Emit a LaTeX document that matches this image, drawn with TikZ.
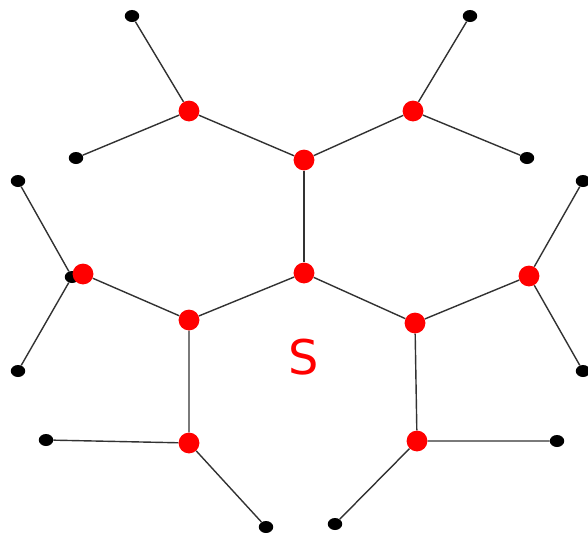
\documentclass[tikz,border=0pt]{standalone}
\usepackage{fontspec}
\newfontfamily\dvs{DejaVu Sans}
\usepackage{tikz}
\usetikzlibrary{positioning,shapes.geometric,backgrounds}
\definecolor{piros}{RGB}{255,0,0}
\definecolor{szurke}{RGB}{50,50,50}
\tikzset{
  pt/.style={circle,fill=piros,inner sep=0pt,minimum size=5.2mm},
  lf/.style={ellipse,fill=black,inner sep=0pt,minimum width=3.6mm,minimum height=3mm},
  el/.style={draw=szurke,line width=1pt},
}

\begin{document}
\begin{tikzpicture}[x=0.025cm,y=-0.025cm]
  \useasboundingbox (0,0) rectangle (588,533);
  % leaves
  \node[lf] (a1) at (132,16) {}; \node[lf] (a2) at (76,158) {};
  \node[lf] (b1) at (470,16) {}; \node[lf] (b2) at (527,158) {};
  \node[lf] (e1) at (18,181) {}; \node[lf] (e2) at (18,371) {}; \node[lf] (e0) at (72,277) {};
  \node[lf] (g1) at (583,181) {}; \node[lf] (g2) at (583,371) {};
  \node[lf] (i1) at (46,440) {}; \node[lf] (i2) at (266,527) {};
  \node[lf] (j1) at (557,441) {}; \node[lf] (j2) at (335,524) {};
  % inner vertices
  \node[pt] (a) at (189,111) {}; \node[pt] (b) at (413,111) {};
  \node[pt] (c) at (304,160) {}; \node[pt] (d) at (304,273) {};
  \node[pt] (e) at (83,274) {};
  \node[pt] (f) at (189,320) {}; \node[pt] (h) at (415,323) {};
  \node[pt] (g) at (529,276) {}; \node[pt] (i) at (189,443) {};
  \node[pt] (j) at (417,441) {};
  \node (s) at (304,357) {\dvs\fontsize{34}{40}\selectfont\color{piros}S};
  % edges
  \begin{scope}[on background layer]
  \draw[el] (a1) -- (a) -- (a2); \draw[el] (b1) -- (b) -- (b2);
  \draw[el] (a) -- (c) -- (b); \draw[el] (c) -- (d);
  \draw[el] (e1) -- (e0) -- (e2); \draw[el] (e) -- (f);
  \draw[el] (d) -- (f) -- (i); \draw[el] (d) -- (h) -- (j);
  \draw[el] (g1) -- (g) -- (g2); \draw[el] (g) -- (h);
  \draw[el] (i1) -- (i) -- (i2); \draw[el] (j1) -- (j) -- (j2);
  \end{scope}
\end{tikzpicture}
\end{document}
